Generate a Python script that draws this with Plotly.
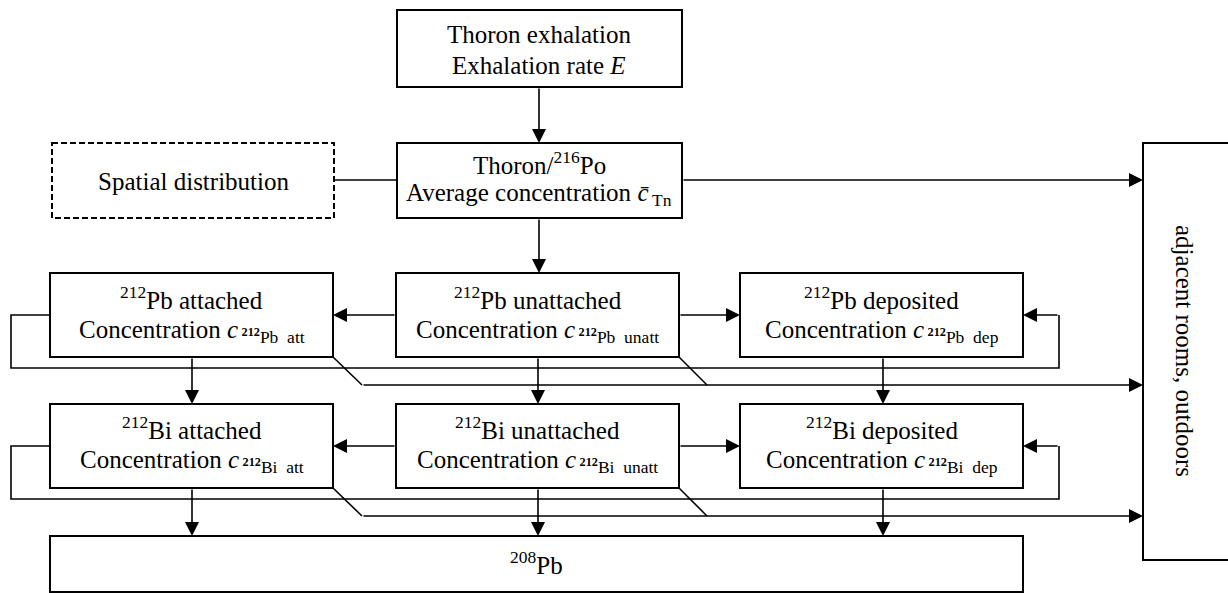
import plotly.graph_objects as go

W, H = 1228, 593

# ---- diagram content (labels) ----
top_lines = ["Thoron exhalation", "Exhalation rate <i>E</i>"]
thoron_lines = ["Thoron/<sup>216</sup>Po",
                "Average concentration <i>c\u0304</i><sub>\u2009Tn</sub>"]
spatial_label = "Spatial distribution"
sink_label = "adjacent rooms, outdoors"
final_label = "<sup>208</sup>Pb"
elements = ["Pb", "Bi"]
mass = ["212", "212"]
states = ["attached", "unattached", "deposited"]
state_sub = ["att", "unatt", "dep"]

# ---- layout geometry (pixels, y down) ----
col_x = [(50, 333), (396, 679), (740, 1023)]
row_y = [(273, 357), (404, 488)]
row_text_y = [(298, 331), (428, 461)]
FONT = "Liberation Serif"
FS = 25

shapes = []
annos = []

def rect(x0, y0, x1, y1, dash="solid"):
    shapes.append(dict(type="rect", xref="x", yref="y", x0=x0, y0=y0, x1=x1, y1=y1,
                       line=dict(color="black", width=2, dash=dash), fillcolor="rgba(0,0,0,0)"))

def path(pts):
    d = "M " + " L ".join(f"{x},{y}" for x, y in pts)
    shapes.append(dict(type="path", xref="x", yref="y", path=d,
                       line=dict(color="black", width=1.6)))

def arrow(tx, ty, hx, hy):
    annos.append(dict(x=hx, y=hy, ax=tx, ay=ty, xref="x", yref="y", axref="x", ayref="y",
                      showarrow=True, arrowhead=2, arrowsize=1.75, arrowwidth=1.6,
                      arrowcolor="black", text="", standoff=0, startstandoff=0))

def text(x, y, s, angle=0):
    annos.append(dict(x=x, y=y, xref="x", yref="y", text=s, showarrow=False,
                      xanchor="center", yanchor="middle", textangle=angle,
                      font=dict(family=FONT, size=FS, color="black")))

# top boxes
rect(397, 10, 682, 87)
text(539, 34, top_lines[0]); text(539, 65, top_lines[1])
rect(397, 143, 682, 218)
text(539, 163, thoron_lines[0]); text(539, 194, thoron_lines[1])
rect(52, 143, 334, 218, dash="6px,3px")
text(193, 181, spatial_label)
path([(334, 180), (397, 180)])
arrow(539, 87, 539, 143)
arrow(682, 180, 1143, 180)
arrow(539, 218, 539, 273)

# sink box
rect(1143, 143, 1240, 560)
text(1185, 351, sink_label, angle=90)

# nuclide rows
for r, (el, m) in enumerate(zip(elements, mass)):
    y0, y1 = row_y[r]
    ty1, ty2 = row_text_y[r]
    ym = (y0 + y1) / 2
    for c, (st, sub) in enumerate(zip(states, state_sub)):
        x0, x1 = col_x[c]
        rect(x0, y0, x1, y1)
        xc = (x0 + x1) / 2
        text(xc, ty1, f"<sup>{m}</sup>{el} {st}")
        text(xc, ty2, f"Concentration <i>c</i><sub>\u2009<sup><b>{m}</b></sup>{el}\u00a0\u00a0{sub}</sub>")
    # unattached -> attached / deposited
    arrow(col_x[1][0], ym, col_x[0][1], ym)
    arrow(col_x[1][1], ym, col_x[2][0], ym)
    # attached -> deposited loop
    yl = y1 + 11
    path([(col_x[0][0], ym), (11, ym), (11, yl), (1059, yl), (1059, ym)])
    arrow(1059, ym, col_x[2][1], ym)
    # ventilation to adjacent rooms
    yv = y1 + 28
    path([(col_x[0][1], y1), (col_x[0][1] + 29, yv)])
    path([(col_x[1][1], y1), (col_x[1][1] + 28, yv)])
    arrow(col_x[0][1] + 29, yv, 1143, yv)
    # decay downward
    ynext = row_y[1][0] if r == 0 else 536
    for xa in (192, 538, 883):
        arrow(xa, y1, xa, ynext)

# final product
rect(50, 536, 1023, 592)
text(536, 563, final_label)

fig = go.Figure()
fig.update_layout(
    width=W, height=H, margin=dict(l=0, r=0, t=0, b=0),
    paper_bgcolor="white", plot_bgcolor="white", showlegend=False,
    xaxis=dict(range=[0, W], visible=False, fixedrange=True),
    yaxis=dict(range=[H, 0], visible=False, fixedrange=True),
    shapes=shapes, annotations=annos,
)
fig.write_html("out.html", config={"displayModeBar": False},
               post_script="document.body.style.margin='0';document.body.style.overflow='hidden';")
